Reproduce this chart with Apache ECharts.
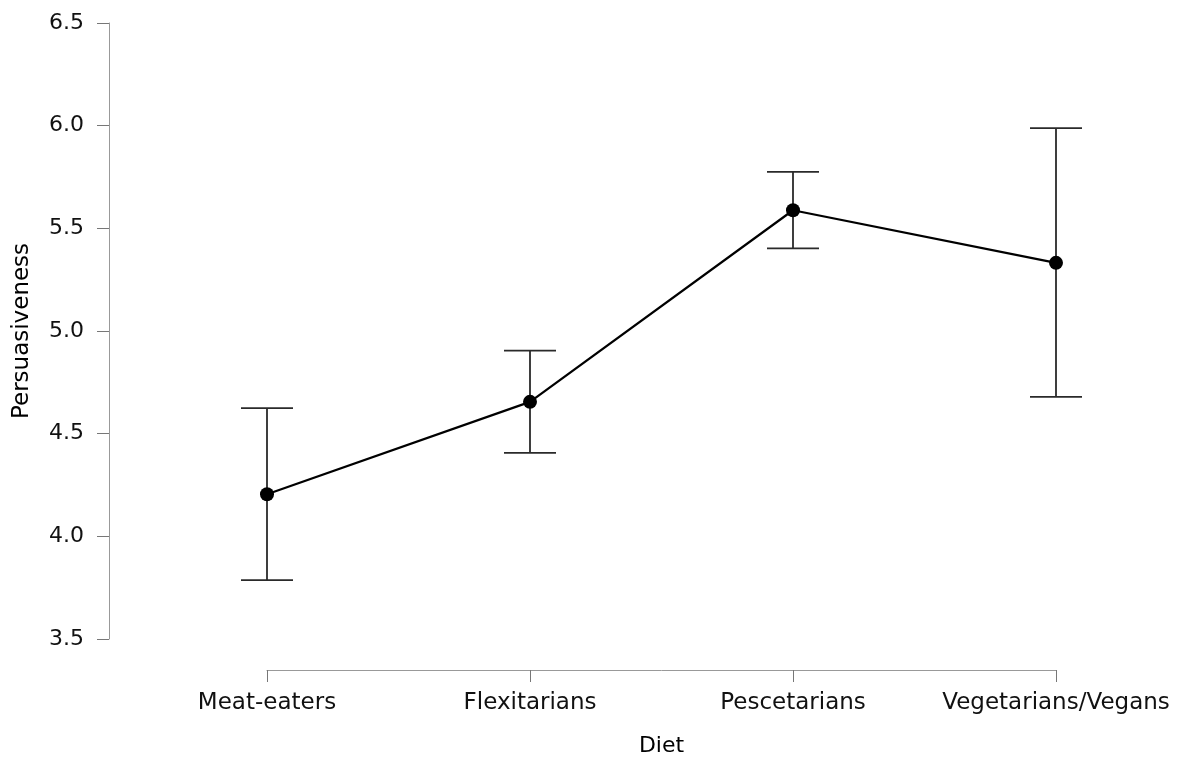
<!DOCTYPE html>
<html>
<head>
<meta charset="utf-8">
<script src="https://cdn.jsdelivr.net/npm/echarts@6/dist/echarts.min.js"></script>
<style>html,body{margin:0;padding:0;background:#fff;}#c{width:1183px;height:758px;}</style>
</head>
<body>
<div id="c"></div>
<script>
const categories = ['Meat-eaters', 'Flexitarians', 'Pescetarians', 'Vegetarians/Vegans'];
const means = [4.205, 4.655, 5.588, 5.332];
const lower = [3.787, 4.406, 5.402, 4.679];
const upper = [4.624, 4.904, 5.775, 5.988];
const yTicks = [3.5, 4.0, 4.5, 5.0, 5.5, 6.0, 6.5];

const FONT = 'DejaVu Sans';
const chart = echarts.init(document.getElementById('c'));
chart.setOption({
  animation: false,
  backgroundColor: '#fff',
  grid: { left: 267, right: 127, top: 23, bottom: 119, containLabel: false, outerBoundsMode: 'none' },
  xAxis: {
    type: 'category',
    data: categories,
    boundaryGap: false,
    offset: 31,
    name: 'Diet',
    nameLocation: 'middle',
    nameGap: 65,
    nameTextStyle: { fontFamily: FONT, fontSize: 22, color: '#000' },
    axisLine: { lineStyle: { color: '#999', width: 1 } },
    axisTick: { interval: 0, length: 12, lineStyle: { color: '#777', width: 1 } },
    axisLabel: { interval: 0, hideOverlap: false, fontFamily: FONT, fontSize: 23, color: '#111', margin: 22 },
    splitLine: { show: false }
  },
  yAxis: {
    type: 'value',
    min: yTicks[0],
    max: yTicks[yTicks.length - 1],
    interval: 0.5,
    offset: 158,
    name: 'Persuasiveness',
    nameLocation: 'middle',
    nameGap: 75,
    nameTextStyle: { fontFamily: FONT, fontSize: 23, color: '#000' },
    axisLine: { show: true, lineStyle: { color: '#999', width: 1 } },
    axisTick: { show: true, length: 12, lineStyle: { color: '#777', width: 1 } },
    axisLabel: { fontFamily: FONT, fontSize: 22, color: '#111', margin: 25,
      formatter: v => v.toFixed(1) },
    splitLine: { show: false }
  },
  series: [
    {
      type: 'custom',
      z: 1,
      data: categories.map((c, i) => [i, lower[i], upper[i]]),
      renderItem: function (params, api) {
        const x = api.value(0);
        const lo = api.coord([x, api.value(1)]);
        const hi = api.coord([x, api.value(2)]);
        const hw = 26;
        const style = { stroke: '#2a2a2a', lineWidth: 1.8 };
        return {
          type: 'group',
          children: [
            { type: 'line', shape: { x1: lo[0], y1: lo[1], x2: hi[0], y2: hi[1] }, style: style },
            { type: 'line', shape: { x1: lo[0] - hw, y1: lo[1], x2: lo[0] + hw, y2: lo[1] }, style: style },
            { type: 'line', shape: { x1: hi[0] - hw, y1: hi[1], x2: hi[0] + hw, y2: hi[1] }, style: style }
          ]
        };
      }
    },
    {
      type: 'line',
      z: 5,
      data: means,
      symbol: 'circle',
      symbolSize: 14,
      lineStyle: { color: '#000', width: 2.2 },
      itemStyle: { color: '#000' }
    }
  ]
});
</script>
</body>
</html>
